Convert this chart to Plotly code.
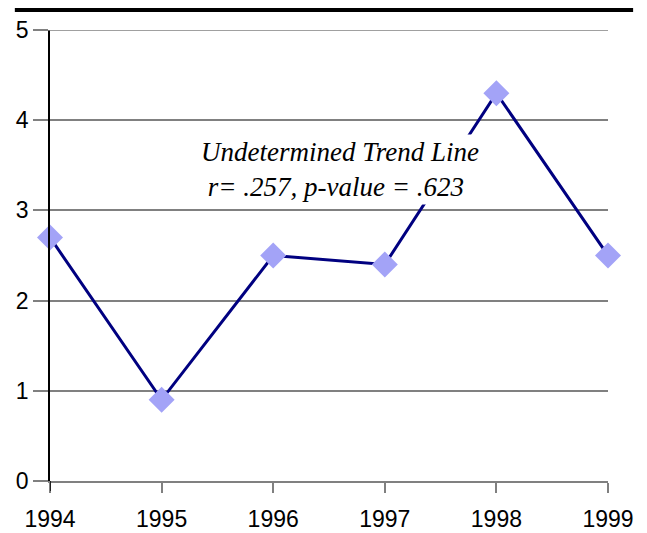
import plotly.graph_objects as go

years = [1994, 1995, 1996, 1997, 1998, 1999]
values = [2.7, 0.9, 2.5, 2.4, 4.3, 2.5]
y_ticks = [0, 1, 2, 3, 4, 5]
annotation_text = "Undetermined Trend Line<br> r= .257, p-value = .623"

fig = go.Figure()
fig.add_trace(go.Scatter(
    x=years, y=values, mode="lines+markers",
    line=dict(color="#000080", width=3),
    marker=dict(symbol="diamond", size=20, color="#A3A3F7"),
    cliponaxis=False, showlegend=False,
))

fig.add_annotation(
    x=1995.33, y=3.45, xref="x", yref="y",
    text=annotation_text, showarrow=False,
    xanchor="left", yanchor="middle", align="left",
    font=dict(family="Liberation Serif", size=27, color="black", style="italic"),
    bgcolor="white", borderpad=2,
)

# thick top rule
fig.add_shape(type="line", xref="paper", yref="paper",
              x0=-0.063, x1=1.045, y0=1.0443, y1=1.0443,
              line=dict(color="black", width=4))
# gridline at top value
fig.add_shape(type="line", xref="paper", yref="y",
              x0=-0.027, x1=1.0, y0=5, y1=5,
              line=dict(color="#808080", width=1.5))
# black tick below the y axis
fig.add_shape(type="line", xref="x", yref="paper",
              x0=years[0], x1=years[0], y0=0, y1=-0.022,
              line=dict(color="black", width=1.5))

fig.update_layout(
    width=639, height=525,
    margin=dict(l=42, r=39, t=22, b=52),
    plot_bgcolor="white", paper_bgcolor="white",
    font=dict(family="Liberation Sans", size=23, color="black"),
)
fig.update_xaxes(
    range=[1994, 1999], tickvals=years, ticktext=[str(y) for y in years],
    showgrid=False, zeroline=False, automargin=False,
    showline=True, linecolor="#808080", linewidth=2,
    ticks="outside", ticklen=10, tickcolor="#808080", tickwidth=1.5,
    ticklabelstandoff=6,
    tickfont=dict(size=23),
)
fig.update_yaxes(
    range=[0, 5], tickvals=y_ticks,
    showgrid=True, gridcolor="#808080", gridwidth=1.5,
    zeroline=False, automargin=False,
    showline=True, linecolor="black", linewidth=1.5,
    ticks="outside", ticklen=15, tickcolor="#808080", tickwidth=1.5,
    tickfont=dict(size=23),
)

fig.write_html("out.html")
